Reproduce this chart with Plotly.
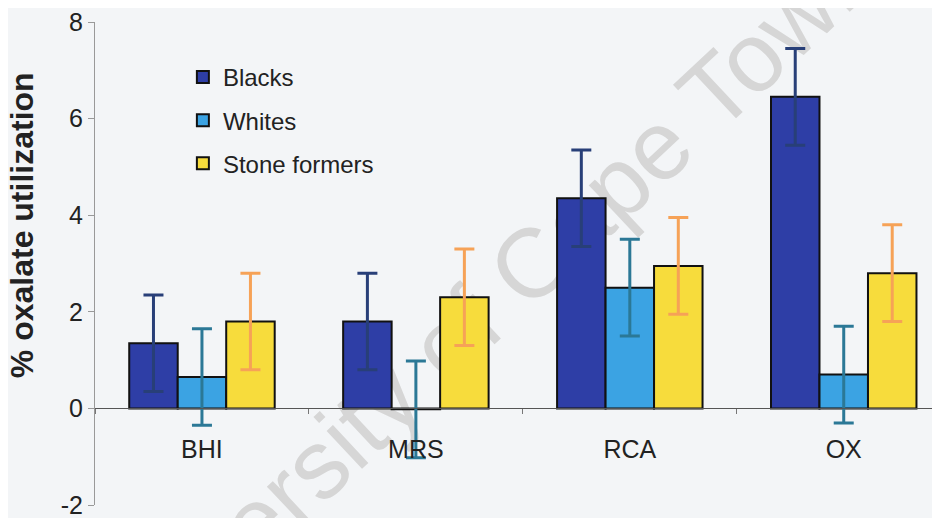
import plotly.graph_objects as go

categories = ["BHI", "MRS", "RCA", "OX"]
blacks = [1.35, 1.8, 4.35, 6.45]
blacks_err = [1.0, 1.0, 1.0, 1.0]
whites = [0.65, -0.02, 2.5, 0.7]
whites_err = [1.0, 1.0, 1.0, 1.0]
stone = [1.8, 2.3, 2.95, 2.8]
stone_err = [1.0, 1.0, 1.0, 1.0]
y_ticks = [-2, 0, 2, 4, 6, 8]
y_tick_labels = ["-2", "0", "2", "4", "6", "8"]

FONT = "Liberation Sans, Arial, sans-serif"

fig = go.Figure()
series = [
    ("Blacks", blacks, blacks_err, "#2e3ea6", "#283f78"),
    ("Whites", whites, whites_err, "#3ba3e3", "#2b7896"),
    ("Stone formers", stone, stone_err, "#f7dc3c", "#f6a257"),
]
for name, vals, errs, col, ecol in series:
    fig.add_trace(go.Bar(
        x=categories, y=vals, name=name, legendgroup=name,
        marker=dict(color=col, line=dict(color="#111111", width=2)),
        error_y=dict(type="data", array=errs, visible=True, color=ecol,
                     thickness=3, width=10),
    ))

# watermark, drawn below the bars
fig.add_shape(
    type="line", xref="paper", yref="paper",
    x0=0.232, y0=-0.105, x1=0.750, y1=0.744,
    line=dict(color="rgba(0,0,0,0)", width=0), layer="below",
    label=dict(text="University of Cape Town", textposition="middle",
               font=dict(family=FONT, size=98, color="#d6d6d6")),
)

# y-axis title
fig.add_annotation(
    text="<b>% oxalate utilization</b>", xref="paper", yref="paper",
    x=-0.086, y=0.58, xanchor="center", yanchor="middle",
    showarrow=False, textangle=-90,
    font=dict(family=FONT, size=32, color="#222222"),
)

fig.update_layout(
    width=932, height=510,
    margin=dict(l=87, r=0, t=14, b=13),
    paper_bgcolor="#f3f5f7", plot_bgcolor="rgba(0,0,0,0)",
    barmode="group", bargap=0.32, bargroupgap=0,
    font=dict(family=FONT, size=25, color="#222222"),
    showlegend=True,
    legend=dict(x=0.104, y=0.932, xanchor="left", yanchor="top",
                bgcolor="rgba(0,0,0,0)", font=dict(size=24, color="#222222"),
                itemwidth=30, tracegroupgap=9),
    xaxis=dict(range=[-0.5, 3.45], anchor="free", position=0.2,
               automargin=False,
               showline=True, linecolor="#555555", linewidth=1,
               ticks="outside", ticklen=5, tickcolor="#777777",
               tickson="boundaries", ticklabelstandoff=19,
               tickfont=dict(size=25, color="#222222"),
               showgrid=False, zeroline=False),
    yaxis=dict(range=[-2, 8], tickvals=y_ticks, ticktext=y_tick_labels,
               automargin=False, ticklabeloverflow="allow",
               showline=True, linecolor="#999999",
               linewidth=1, ticks="outside", ticklen=6, tickcolor="#999999",
               showgrid=False, zeroline=False,
               tickfont=dict(size=25, color="#222222")),
)

fig.write_html("out.html")
